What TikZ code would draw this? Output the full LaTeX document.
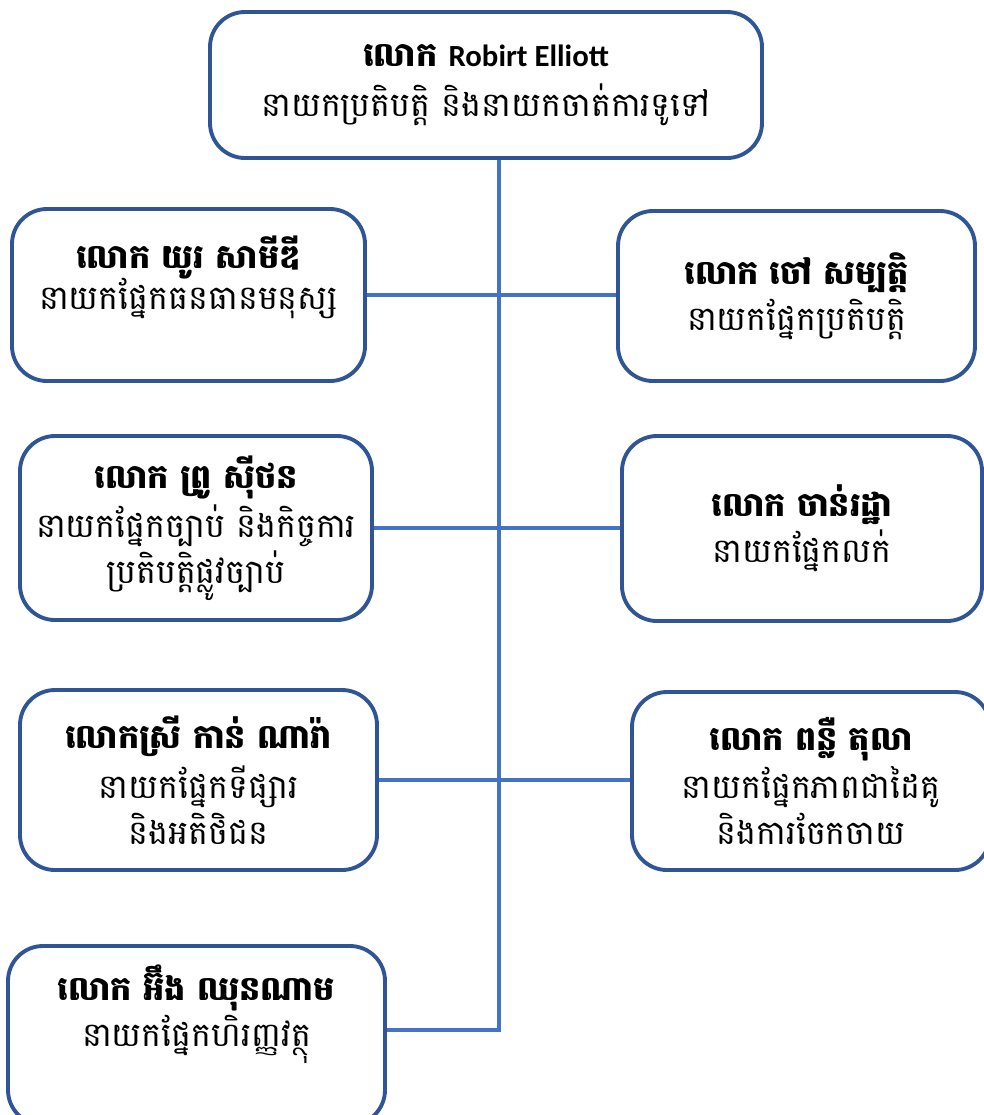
\documentclass[tikz,border=0pt]{standalone}
\usepackage{fontspec}
\setmainfont{Carlito}
\newfontfamily\kh[Script=Khmer]{Battambang}
\definecolor{boxblue}{HTML}{2F5597}
\definecolor{lineblue}{HTML}{4472C4}
\newcommand{\nm}[1]{{\fontsize{19}{28}\selectfont\bfseries #1}}
\newcommand{\lift}[1]{\rule[-#1]{0pt}{0pt}}

\begin{document}
\begin{tikzpicture}[x=0.2mm, y=-0.2mm,
    person/.style={draw=boxblue, line width=2.2pt, rounded corners=7mm, fill=white,
      align=center, font=\kh\fontsize{19}{26}\selectfont},
    link/.style={draw=lineblue, line width=2.8pt}]
  \useasboundingbox (0,0) rectangle (984,1115);

  \node[person, minimum width=110.4mm, minimum height=29.2mm] (top) at (486,85)
    {\nm{លោក {\rmfamily\fontsize{17.5}{28}\selectfont Robirt Elliott}}\\[1mm] នាយកប្រតិបត្តិ និងនាយកចាត់ការទូទៅ};

  \node[person, minimum width=70.6mm, minimum height=34.4mm] (l1) at (188.5,295)
    {\nm{លោក យូរ សាមីឌី}\\[-1mm] នាយកផ្នែកធនធានមនុស្ស\lift{9mm}};
  \node[person, minimum width=71.4mm, minimum height=34mm] (r1) at (796.5,296)
    {\nm{លោក ចៅ សម្បត្តិ}\\ នាយកផ្នែកប្រតិបត្តិ};

  \node[person, minimum width=70.4mm, minimum height=36.8mm] (l2) at (196,528)
    {\nm{លោក ព្រូ ស៊ីថន}\\[0.8mm] នាយកផ្នែកច្បាប់ និងកិច្ចការ\\ ប្រតិបត្តិផ្លូវច្បាប់};
  \node[person, minimum width=72mm, minimum height=37mm] (r2) at (802,528.5)
    {\nm{លោក ចាន់រដ្ឋា}\\ នាយកផ្នែកលក់};

  \node[person, minimum width=71.4mm, minimum height=36mm] (l3) at (198.5,780)
    {\nm{លោកស្រី កាន់ ណារ៉ា}\\[0.8mm] នាយកផ្នែកទីផ្សារ\\ និងអតិថិជន};
  \node[person, minimum width=71.6mm, minimum height=35.6mm] (r3) at (811,781)
    {\nm{លោក ពន្លឺ តុលា}\\[0.4mm] នាយកផ្នែកភាពជាដៃគូ\\ និងការចែកចាយ};

  \node[person, minimum width=75.4mm, minimum height=35.8mm] (l4) at (196.5,1035.5)
    {\nm{លោក អ៊ឹង ឈុនណាម}\\ នាយកផ្នែកហិរញ្ញវត្ថុ\lift{12mm}};

  \coordinate (jn) at (499,1030);
  \draw[link] (top.south -| jn) -- (jn) -- (jn -| l4.east);
  \draw[link] (l1.east) -- (l1.east -| r1.west);
  \draw[link] (l2.east) -- (l2.east -| r2.west);
  \draw[link] (l3.east) -- (l3.east -| r3.west);
\end{tikzpicture}
\end{document}
